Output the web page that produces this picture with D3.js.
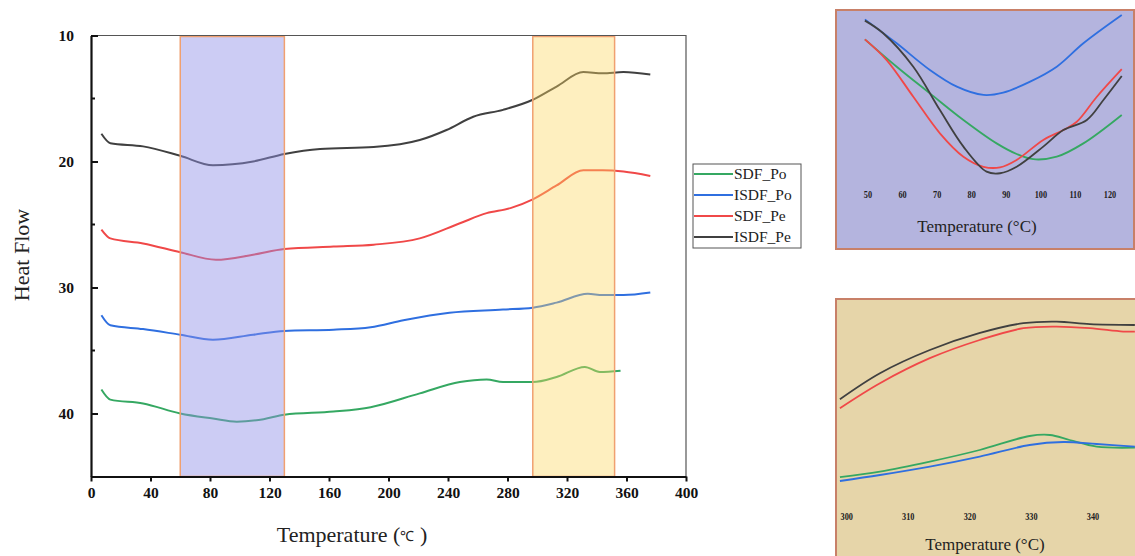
<!DOCTYPE html>
<html>
<head>
<meta charset="utf-8">
<script src="https://cdn.jsdelivr.net/npm/d3@7"></script>
<style>
  body { margin: 0; background: #fff; }
  svg { display: block; font-family: "Liberation Serif", "Times New Roman", serif; }
</style>
</head>
<body>
<div id="chart"></div>
<script>
const seriesNames = ["SDF_Po", "ISDF_Po", "SDF_Pe", "ISDF_Pe"];
const colors = ["#35a862", "#2f6fe0", "#f04848", "#404040"];

// main chart: temperature (°C) vs heat flow
const tSDF_Po = [7, 13, 35, 60, 82, 98, 116, 130, 163, 188, 221, 248, 266, 277, 297, 313, 332, 342, 356];
const hSDF_Po = [38.1, 38.9, 39.2, 40.0, 40.4, 40.65, 40.45, 40.1, 39.85, 39.5, 38.4, 37.5, 37.3, 37.5, 37.5, 37.1, 36.3, 36.7, 36.6];

const tISDF_Po = [7, 13, 35, 60, 82, 109, 130, 163, 188, 210, 241, 277, 297, 313, 334, 344, 358, 376];
const hISDF_Po = [32.2, 33.0, 33.3, 33.75, 34.15, 33.75, 33.45, 33.35, 33.15, 32.6, 32.0, 31.75, 31.6, 31.2, 30.5, 30.6, 30.6, 30.4];

const tSDF_Pe = [7, 13, 35, 60, 84, 109, 130, 163, 190, 221, 248, 266, 282, 297, 313, 331, 344, 358, 376];
const hSDF_Pe = [25.4, 26.1, 26.5, 27.2, 27.8, 27.4, 26.95, 26.75, 26.6, 26.1, 24.9, 24.1, 23.7, 23.0, 21.9, 20.7, 20.7, 20.8, 21.15];

const tISDF_Pe = [7, 13, 35, 60, 82, 109, 130, 154, 190, 221, 239, 257, 277, 297, 313, 331, 344, 358, 376];
const hISDF_Pe = [17.8, 18.55, 18.8, 19.55, 20.3, 20.0, 19.4, 19.0, 18.85, 18.3, 17.5, 16.45, 15.9, 15.1, 14.05, 12.9, 13.0, 12.9, 13.1];

const xTicks = [0, 40, 80, 120, 160, 200, 240, 280, 320, 360, 400];
const yTicks = [10, 20, 30, 40];
const yMinor = [15, 25, 35];

// highlighted temperature ranges
const bandLow = [60, 130];
const bandHigh = [297, 352];

// inset 1 (50-120 °C), relative heat flow
const in1Ticks = [50, 60, 70, 80, 90, 100, 110, 120];
const in1T_SDF_Po = [49.1, 58.3, 67.9, 77.6, 87.2, 93.0, 97.8, 104.6, 112.3, 123.4];
const in1H_SDF_Po = [83.7, 68.5, 53.7, 38.9, 25.9, 20, 17.1, 18.5, 25.9, 41.7];
const in1T_ISDF_Po = [49.1, 58.3, 67.9, 75.7, 83.4, 89.1, 96.9, 104.6, 112.3, 123.4];
const in1H_ISDF_Po = [94.8, 81.5, 66.7, 57.4, 52.8, 54.1, 60.2, 68.5, 81.5, 97.2];
const in1T_SDF_Pe = [49.1, 55.4, 63.1, 70.8, 77.6, 83.4, 88.2, 93.0, 100.7, 106.5, 110.4, 116.2, 123.4];
const in1H_SDF_Pe = [83.7, 72.2, 51.8, 31.5, 18.5, 12.9, 12.6, 16.7, 27.8, 33.3, 37.9, 51.8, 67.1];
const in1T_ISDF_Pe = [49.1, 54.4, 63.1, 70.8, 77.6, 84.3, 88.2, 93.0, 100.7, 106.5, 113.3, 118.1, 123.4];
const in1H_ISDF_Pe = [94.1, 87.1, 68.5, 44.4, 24.1, 10.2, 9.3, 12.9, 24.1, 33.3, 38.9, 50, 63.3];

// inset 2 (300-345 °C), relative heat flow
const in2Ticks = [300, 310, 320, 330, 340];
const in2T_SDF_Po = [298.9, 305.4, 313.5, 321.6, 329.7, 333.0, 336.2, 340.6, 346.8];
const in2H_SDF_Po = [11.4, 14.2, 19.2, 25, 32, 32.5, 30, 26.7, 26.2];
const in2T_ISDF_Po = [298.9, 305.4, 313.5, 321.6, 329.7, 335.2, 340.6, 346.8];
const in2H_ISDF_Po = [9.5, 12.5, 16.7, 21.7, 27.5, 29, 28, 26.7];
const in2T_SDF_Pe = [298.9, 305.4, 313.5, 321.6, 328.7, 334.1, 339.5, 344.9, 346.8];
const in2H_SDF_Pe = [45.9, 58.4, 70.9, 80, 85.9, 86.7, 85.9, 84.2, 84.2];
const in2T_ISDF_Pe = [298.9, 305.4, 313.5, 321.5, 328.7, 334.1, 339.5, 346.8];
const in2H_ISDF_Pe = [50.4, 63.4, 75, 83.4, 88.4, 89.2, 87.9, 87.5];

const zip = (ts, hs) => ts.map((t, i) => [t, hs[i]]);

const mainData = [zip(tSDF_Po, hSDF_Po), zip(tISDF_Po, hISDF_Po), zip(tSDF_Pe, hSDF_Pe), zip(tISDF_Pe, hISDF_Pe)];
const in1Data = [zip(in1T_SDF_Po, in1H_SDF_Po), zip(in1T_ISDF_Po, in1H_ISDF_Po), zip(in1T_SDF_Pe, in1H_SDF_Pe), zip(in1T_ISDF_Pe, in1H_ISDF_Pe)];
const in2Data = [zip(in2T_SDF_Po, in2H_SDF_Po), zip(in2T_ISDF_Po, in2H_ISDF_Po), zip(in2T_SDF_Pe, in2H_SDF_Pe), zip(in2T_ISDF_Pe, in2H_ISDF_Pe)];

const W = 1135, H = 556;
const svg = d3.select("#chart").append("svg").attr("width", W).attr("height", H);

// ---- main plot ----
const x = d3.scaleLinear().domain([0, 400]).range([91, 686]);
const y = d3.scaleLinear().domain([10, 45]).range([35.5, 476.5]);

const line = d3.line().x(d => x(d[0])).y(d => y(d[1])).curve(d3.curveMonotoneX);

svg.append("g").selectAll("path")
  .data(mainData)
  .join("path")
  .attr("fill", "none")
  .attr("stroke", (d, i) => colors[i])
  .attr("stroke-width", 2)
  .attr("d", line);

// translucent bands over the lines
const bands = [
  { r: bandLow, fill: "#8f8fe6", op: 0.45 },
  { r: bandHigh, fill: "#fcd860", op: 0.4 }
];
svg.append("g").selectAll("rect")
  .data(bands)
  .join("rect")
  .attr("x", d => x(d.r[0]))
  .attr("y", y(10) + 1)
  .attr("width", d => x(d.r[1]) - x(d.r[0]))
  .attr("height", y(45) - y(10) - 1)
  .attr("fill", d => d.fill)
  .attr("fill-opacity", d => d.op)
  .attr("stroke", "#f0a070")
  .attr("stroke-width", 1.5);

// frame: thin top/right
svg.append("path")
  .attr("d", `M${x(0)},${y(10)}H${x(400)}V${y(45)}`)
  .attr("fill", "none").attr("stroke", "#555").attr("stroke-width", 1.2);

const xAxis = svg.append("g")
  .attr("transform", `translate(0,${y(45)})`)
  .call(d3.axisBottom(x).tickValues(xTicks).tickSize(5).tickPadding(5).tickSizeOuter(0));
const yAxis = svg.append("g")
  .attr("transform", `translate(${x(0)},0)`)
  .call(d3.axisLeft(y).tickValues(yTicks).tickSize(-7).tickPadding(17).tickSizeOuter(0));
svg.append("g")
  .attr("transform", `translate(${x(0)},0)`)
  .selectAll("line").data(yMinor).join("line")
  .attr("x1", 0).attr("x2", 4)
  .attr("y1", d => y(d)).attr("y2", d => y(d))
  .attr("stroke", "#111").attr("stroke-width", 2);

[xAxis, yAxis].forEach(g => {
  g.select(".domain").attr("stroke", "#111").attr("stroke-width", 2.2);
  g.selectAll(".tick line").attr("stroke", "#111").attr("stroke-width", 2);
  g.selectAll(".tick text")
    .attr("fill", "#111")
    .style("font-family", "Liberation Serif")
    .style("font-weight", "bold")
    .style("font-size", "15.5px");
});

svg.append("text")
  .attr("transform", `translate(29,255) rotate(-90)`)
  .attr("text-anchor", "middle")
  .style("font-size", "22px")
  .attr("fill", "#222")
  .text("Heat Flow");

const xTitle = svg.append("text")
  .attr("x", 352).attr("y", 542)
  .attr("text-anchor", "middle")
  .style("font-size", "22px")
  .attr("fill", "#222");
xTitle.append("tspan").text("Temperature (");
xTitle.append("tspan").style("font-size", "14px").attr("dy", -1).text("\u2103");
xTitle.append("tspan").attr("dy", 1).text(" )");

// legend
const legend = svg.append("g").attr("transform", "translate(693,164)");
legend.append("rect")
  .attr("width", 108).attr("height", 84)
  .attr("fill", "#fff").attr("stroke", "#555").attr("stroke-width", 1);
const item = legend.selectAll("g.item").data(seriesNames).join("g")
  .attr("class", "item")
  .attr("transform", (d, i) => `translate(0,${10 + i * 21})`);
item.append("line")
  .attr("x1", 1).attr("x2", 40)
  .attr("stroke", (d, i) => colors[i]).attr("stroke-width", 2);
item.append("text")
  .attr("x", 41).attr("dy", "0.35em")
  .style("font-size", "15.5px")
  .attr("fill", "#222")
  .text(d => d);

// ---- insets ----
function inset(box, fill, xs, ticks, data, tickY, titleY) {
  const g = svg.append("g");
  const id = "clip" + box.x + box.y;
  svg.append("clipPath").attr("id", id)
    .append("rect").attr("x", box.x).attr("y", box.y).attr("width", box.w).attr("height", box.h);
  g.append("rect")
    .attr("x", box.x).attr("y", box.y).attr("width", box.w).attr("height", box.h)
    .attr("fill", fill).attr("stroke", "#c88068").attr("stroke-width", 2);
  const ys = d3.scaleLinear().domain([0, 100]).range(box.yr);
  const ln = d3.line().x(d => xs(d[0])).y(d => ys(d[1])).curve(d3.curveCatmullRom.alpha(0.5));
  g.append("g").attr("clip-path", `url(#${id})`)
    .selectAll("path").data(data).join("path")
    .attr("fill", "none")
    .attr("stroke", (d, i) => colors[i])
    .attr("stroke-width", 1.8)
    .attr("d", ln);
  g.selectAll("text.tk").data(ticks).join("text")
    .attr("class", "tk")
    .attr("x", d => xs(d)).attr("y", tickY)
    .attr("text-anchor", "middle")
    .style("font-size", "11px").style("font-weight", "bold")
    .attr("fill", "#222")
    .attr("transform", d => `translate(${xs(d)},${tickY}) scale(0.75,1) translate(${-xs(d)},${-tickY})`)
    .text(d => d);
  g.append("text")
    .attr("x", box.cx).attr("y", titleY)
    .attr("text-anchor", "middle")
    .style("font-size", "17px")
    .attr("fill", "#222")
    .text("Temperature (\u00b0C)");
}

inset({ x: 836, y: 10, w: 298, h: 239, yr: [190, 10], cx: 977 }, "#b4b4de",
  d3.scaleLinear().domain([50, 120]).range([868, 1110]), in1Ticks, in1Data, 198, 232);

inset({ x: 836, y: 299, w: 300, h: 262, yr: [500, 300], cx: 985 }, "#e6d5a9",
  d3.scaleLinear().domain([300, 340]).range([846.7, 1093]), in2Ticks, in2Data, 520, 550);
</script>
</body>
</html>
